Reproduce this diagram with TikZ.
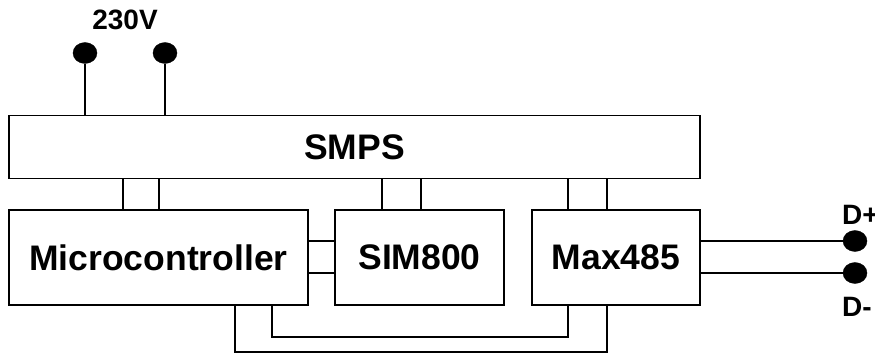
\documentclass[tikz,border=0pt]{standalone}
\usepackage{fontspec}
\setmainfont{Liberation Sans}
\usepackage{tikz}
\usetikzlibrary{calc, shapes.geometric}

\begin{document}
\begin{tikzpicture}[x=1pt,y=-1pt]
          \tikzstyle{block}=[draw,line width=1.2pt,rectangle,inner sep=0pt,font=\fontsize{35.5}{40}\selectfont\bfseries]
          \tikzstyle{term}=[ellipse,fill=black,draw=black,inner sep=0pt,minimum width=24pt,minimum height=21pt]
          \tikzstyle{wire}=[draw,line width=1.2pt]
          \tikzstyle{lbl}=[inner sep=0pt,font=\fontsize{28}{32}\selectfont\bfseries]
          \useasboundingbox (0,0) rectangle (875,353);
          \node[block,minimum width=691pt,minimum height=63pt] (smps) at (354.5,147) {SMPS};
          \node[block,minimum width=299pt,minimum height=95pt] (mcu) at (158.5,257.5) {Microcontroller};
          \node[block,minimum width=169pt,minimum height=95pt] (sim) at (419.5,257.5) {SIM800};
          \node[block,minimum width=168pt,minimum height=95pt] (max) at (616,257.5) {Max485};
          \node[term] (t1) at (85,53) {};
          \node[term] (t2) at (165,53) {};
          \node[lbl] (v230) at (125,20) {230V};
          \node[term] (dp) at (855,241) {};
          \node[term] (dm) at (855,273) {};
          \node[lbl,anchor=west] (dpl) at (842,215) {D+};
          \node[lbl,anchor=west] (dml) at (842,307) {D-};
          % mains in
          \draw[wire] (t1) -- (t1 |- smps.north);
          \draw[wire] (t2) -- (t2 |- smps.north);
          % supply lines
          \foreach \x in {123,159}{
            \draw[wire] (smps.south -| \x,0) -- (mcu.north -| \x,0);
            }
          \foreach \x in {382,421}{
            \draw[wire] (smps.south -| \x,0) -- (sim.north -| \x,0);
            }
          \foreach \x in {568,607}{
            \draw[wire] (smps.south -| \x,0) -- (max.north -| \x,0);
            }
          % mcu <-> sim800
          \foreach \y in {241,273}{
            \draw[wire] (mcu.east |- 0,\y) -- (sim.west |- 0,\y);
            }
          % mcu <-> max485
          \draw[wire] (mcu.south -| 272,0) -- (272,337) -- (568,337) -- (max.south -| 568,0);
          \draw[wire] (mcu.south -| 235,0) -- (235,352) -- (607,352) -- (max.south -| 607,0);
          % bus out
          \draw[wire] (max.east |- dp) -- (dp);
          \draw[wire] (max.east |- dm) -- (dm);
        \end{tikzpicture}
\end{document}
